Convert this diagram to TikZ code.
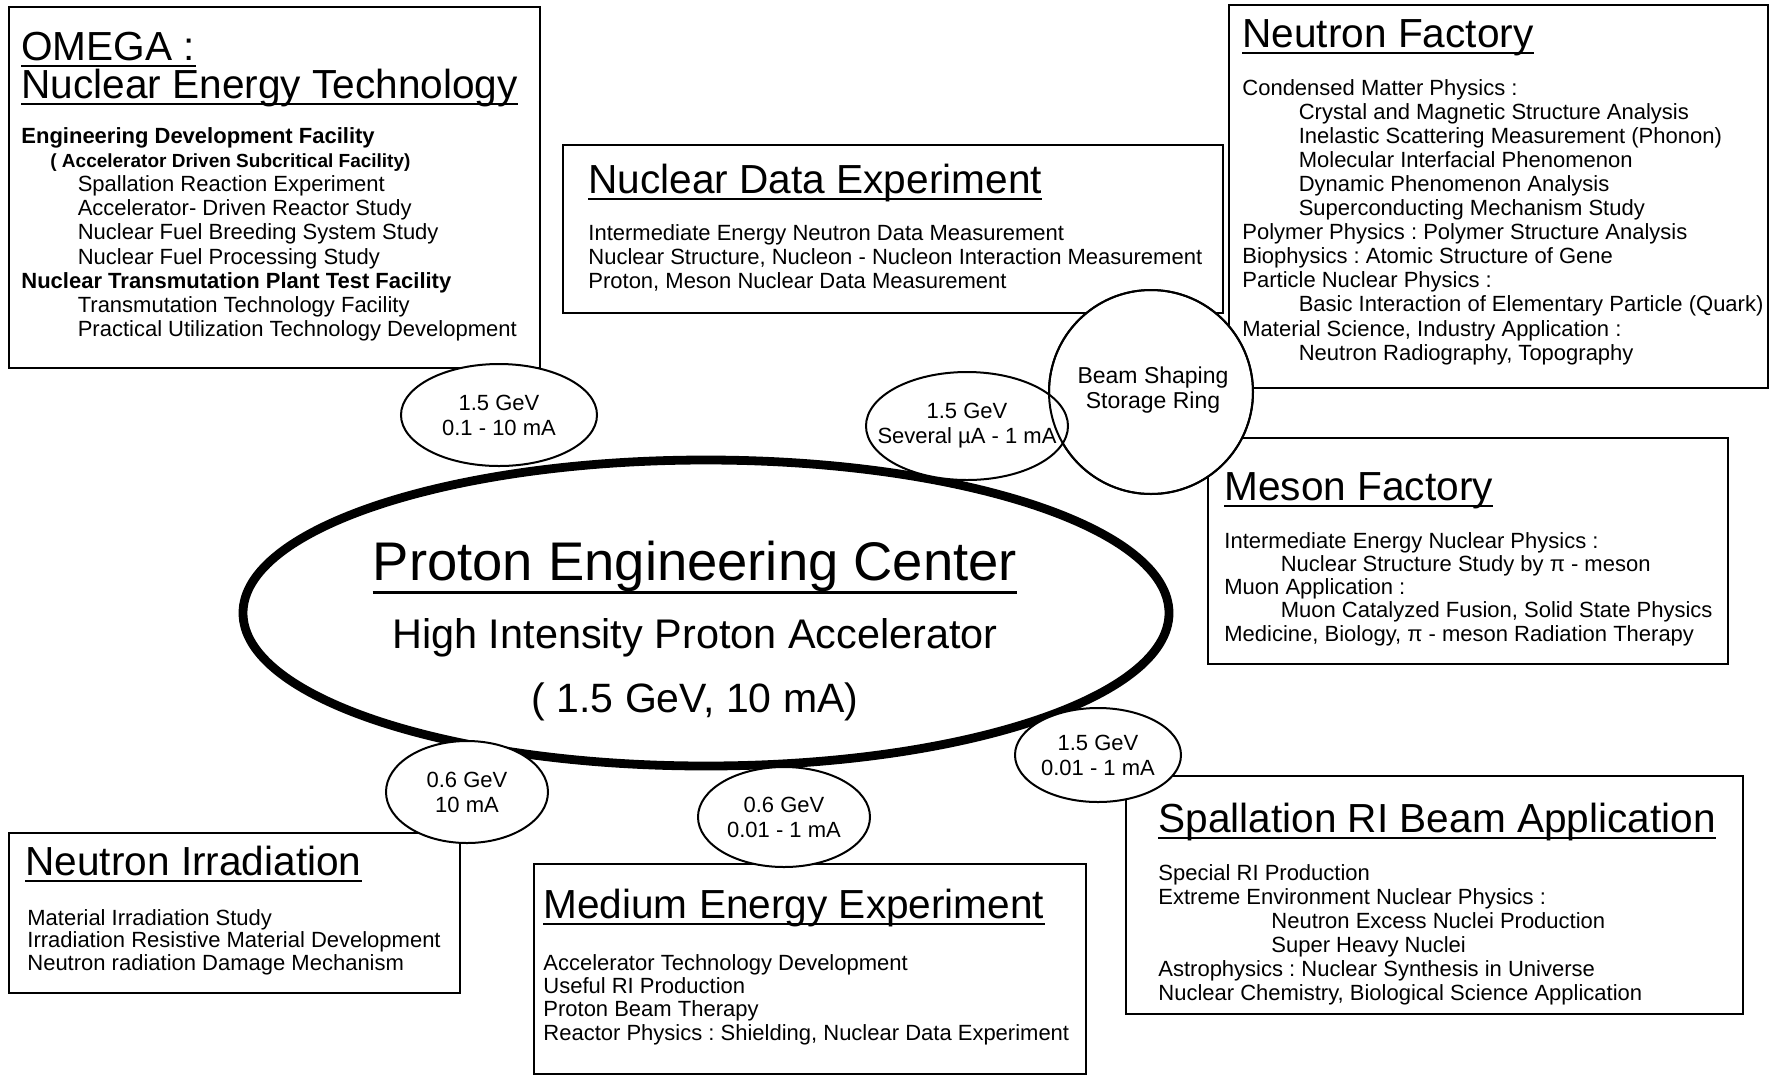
\documentclass[tikz,border=0pt]{standalone}
\usepackage{fontspec}
\setmainfont{Liberation Sans}
\usetikzlibrary{shapes.geometric}
\frenchspacing
\newcommand\ia{\hspace*{28.2pt}}
\newcommand\ib{\hspace*{56.5pt}}
\newcommand\tblock[5]{%
  \foreach \t [count=\i] in {#5} {\node[txt] (#1\i) at (#2,{#3+#4*(\i-1)}) {\t};}}
\tikzset{
  box/.style={draw, line width=1.2pt, inner sep=0pt, anchor=north west},
  ttl/.style={anchor=base west, inner sep=0pt, font=\fontsize{20.3}{22}\selectfont},
  txt/.style={anchor=base west, inner sep=0pt, font=\fontsize{11}{12}\selectfont},
  ul/.style={line width=1.3pt},
  beam/.style={draw, ellipse, fill=white, line width=1pt, inner sep=0pt},
  lbl/.style={align=center, inner sep=0pt, font=\fontsize{11}{12.5}\selectfont},
  big/.style={anchor=base, inner sep=0pt},
}
\begin{document}
\begin{tikzpicture}[x=0.5pt,y=-0.5pt]
\useasboundingbox (0,0) rectangle (1769,1078);

% ---------- OMEGA ----------
\node[box, minimum width=265.5pt, minimum height=180.5pt] (omega) at (8,6) {};
\node[ttl] (omt1) at (21,60) {OMEGA :};
\node[ttl] (omt2) at (21,98) {Nuclear Energy Technology};
\draw[ul] ([yshift=-3pt]omt1.base west) -- ([yshift=-3pt]omt1.base east);
\draw[ul] ([yshift=-3pt]omt2.base west) -- ([yshift=-3pt]omt2.base east);
\tblock{om}{21}{143}{24.2}{{\bfseries Engineering Development Facility},
  {\fontsize{9.5}{10}\selectfont\bfseries\hspace*{14.5pt}( Accelerator Driven Subcritical Facility)},
  \ia Spallation Reaction Experiment,
  \ia Accelerator- Driven Reactor Study,
  \ia Nuclear Fuel Breeding System Study,
  \ia Nuclear Fuel Processing Study,
  {\bfseries Nuclear Transmutation Plant Test Facility},
  \ia Transmutation Technology Facility,
  \ia Practical Utilization Technology Development}

% ---------- Nuclear Data Experiment ----------
\node[box, minimum width=330pt, minimum height=84pt] (nde) at (562,144) {};
\node[ttl] (ndet) at (588,193) {Nuclear Data Experiment};
\draw[ul] ([yshift=-3pt]ndet.base west) -- ([yshift=-3pt]ndet.base east);
\tblock{nd}{588}{240}{24}{Intermediate Energy Neutron Data Measurement,
  {Nuclear Structure, Nucleon - Nucleon Interaction Measurement},
  {Proton, Meson Nuclear Data Measurement}}

% ---------- Neutron Factory ----------
\node[box, minimum width=269.5pt, minimum height=191.5pt] (nf) at (1228,4) {};
\node[ttl] (nft) at (1242,47) {Neutron Factory};
\draw[ul] ([yshift=-3pt]nft.base west) -- ([yshift=-3pt]nft.base east);
\tblock{nf}{1242}{95}{24.1}{Condensed Matter Physics :,
  \ia Crystal and Magnetic Structure Analysis,
  \ia Inelastic Scattering Measurement (Phonon),
  \ia Molecular Interfacial Phenomenon,
  \ia Dynamic Phenomenon Analysis,
  \ia Superconducting Mechanism Study,
  Polymer Physics : Polymer Structure Analysis,
  Biophysics : Atomic Structure of Gene,
  Particle Nuclear Physics :,
  \ia Basic Interaction of Elementary Particle (Quark),
  {Material Science, Industry Application :},
  {\ia Neutron Radiography, Topography}}

% ---------- Meson Factory ----------
\node[box, minimum width=260pt, minimum height=113pt] (mf) at (1207,437) {};
\node[ttl] (mft) at (1224,500) {Meson Factory};
\draw[ul] ([yshift=-3pt]mft.base west) -- ([yshift=-3pt]mft.base east);
\tblock{mf}{1224}{548}{23.3}{Intermediate Energy Nuclear Physics :,
  \ia Nuclear Structure Study by π - meson,
  Muon Application :,
  {\ia Muon Catalyzed Fusion, Solid State Physics},
  {Medicine, Biology, π - meson Radiation Therapy}}

% ---------- Spallation RI Beam Application ----------
\node[box, minimum width=308.5pt, minimum height=119pt] (sp) at (1125,775) {};
\node[ttl] (spt) at (1158,832) {Spallation RI Beam Application};
\draw[ul] ([yshift=-3pt]spt.base west) -- ([yshift=-3pt]spt.base east);
\tblock{sp}{1158}{880}{24}{Special RI Production,
  Extreme Environment Nuclear Physics :,
  \ib Neutron Excess Nuclei Production,
  \ib Super Heavy Nuclei,
  Astrophysics : Nuclear Synthesis in Universe,
  {Nuclear Chemistry, Biological Science Application}}

% ---------- Medium Energy Experiment ----------
\node[box, minimum width=276pt, minimum height=105pt] (me) at (533,863) {};
\node[ttl] (met) at (543,918) {Medium Energy Experiment};
\draw[ul] ([yshift=-3pt]met.base west) -- ([yshift=-3pt]met.base east);
\tblock{me}{543}{970}{23.4}{Accelerator Technology Development,
  Useful RI Production,
  Proton Beam Therapy,
  {Reactor Physics : Shielding, Nuclear Data Experiment}}

% ---------- Neutron Irradiation ----------
\node[box, minimum width=225.5pt, minimum height=80pt] (ni) at (8,832) {};
\node[ttl] (nit) at (25,875) {Neutron Irradiation};
\draw[ul] ([yshift=-3pt]nit.base west) -- ([yshift=-3pt]nit.base east);
\tblock{ni}{27}{925}{22.8}{Material Irradiation Study,
  Irradiation Resistive Material Development,
  Neutron radiation Damage Mechanism}

% ---------- Proton Engineering Center ----------
\node[draw, ellipse, line width=4.4pt, inner sep=0pt, fill=white,
      minimum width=463pt, minimum height=153pt] (pec) at (706,613) {};
\node[big, font=\fontsize{27.2}{30}\selectfont] (pec1) at (695,580) {Proton Engineering Center};
\draw[line width=1.5pt] ([yshift=-6pt]pec1.base west) -- ([yshift=-6pt]pec1.base east);
\node[big, font=\fontsize{20.7}{23}\selectfont] (pec2) at (695,648) {High Intensity Proton Accelerator};
\node[big, font=\fontsize{20.5}{23}\selectfont] (pec3) at (695,712) {( 1.5 GeV, 10 mA)};

% ---------- beam ellipses ----------
\node[beam, minimum width=98pt, minimum height=51pt] (e1) at (499,415) {};
\node[lbl] (e1t) at (e1) {1.5 GeV\\0.1 - 10 mA};
\node[beam, minimum width=83pt, minimum height=47pt] (e3) at (1098,755) {};
\node[lbl] (e3t) at (e3) {1.5 GeV\\0.01 - 1 mA};
\node[beam, minimum width=86pt, minimum height=50pt] (e4) at (784,817) {};
\node[lbl] (e4t) at (e4) {0.6 GeV\\0.01 - 1 mA};
\node[beam, minimum width=81pt, minimum height=51pt] (e5) at (467,792) {};
\node[lbl] (e5t) at (e5) {0.6 GeV\\10 mA};

% ---------- storage ring and its beam ----------
\node[draw, circle, fill=white, line width=1pt, inner sep=0pt, minimum size=102pt] (bsr) at (1151,392) {};
\node[beam, minimum width=101pt, minimum height=54pt] (e2) at (967,426) {};
\draw[line width=1pt] (bsr.center) circle[radius=51pt];
\node[lbl, font=\fontsize{11.5}{12.5}\selectfont] (bsrt) at (1153,390) {Beam Shaping\\Storage Ring};
\node[lbl] (e2t) at (e2) {1.5 GeV\\Several µA - 1 mA};
\end{tikzpicture}
\end{document}
